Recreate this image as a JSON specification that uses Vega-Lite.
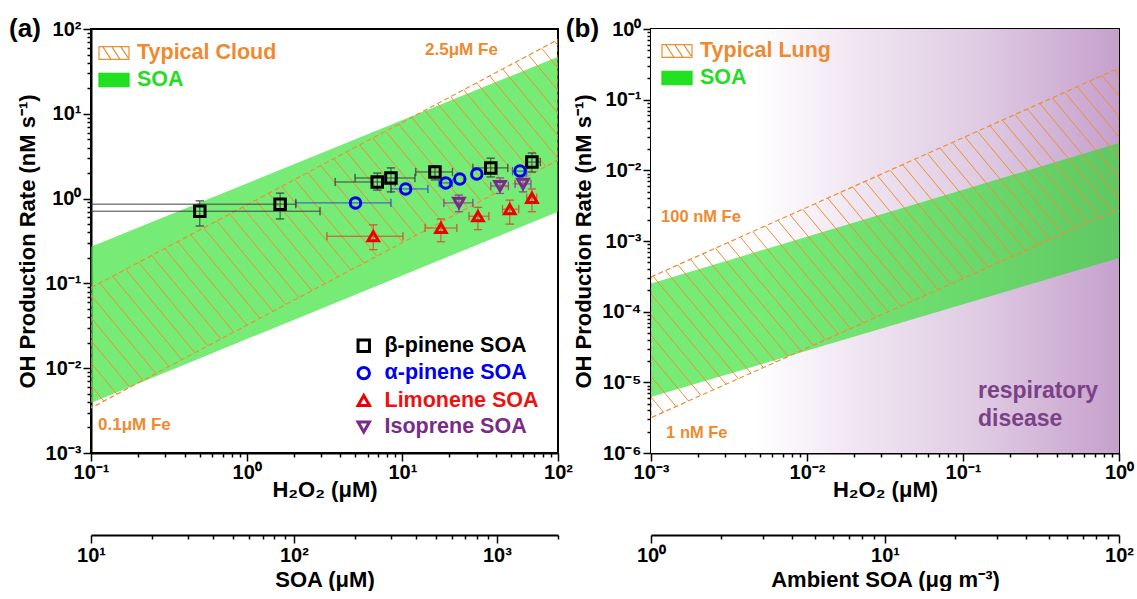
{
  "$schema": "https://vega.github.io/schema/vega-lite/v6.json",
  "padding": {"left": 8, "top": 15, "right": 0, "bottom": 0},
  "spacing": 93,
  "bounds": "flush",
  "resolve": {"scale": {"fill": "independent", "color": "independent", "shape": "independent", "stroke": "independent"}},
  "datasets": {
    "bandA": [{"x": 0.1, "lo": 0.0039, "hi": 0.27, "band": "SOA"}, {"x": 100, "lo": 0.7, "hi": 47, "band": "SOA"}],
    "polyA": [{"o": 1, "x": 0.1, "y": 0.089}, {"o": 2, "x": 100, "y": 75}, {"o": 3, "x": 100, "y": 2.85}, {"o": 4, "x": 0.1, "y": 0.0034}, {"o": 5, "x": 0.1, "y": 0.089}],
    "hatchA": [
      {"x":-1.445,"y":-1.484,"x2":-1.0,"y2":-2.47},{"x":-1.362,"y":-1.403,"x2":-0.917,"y2":-2.389},{"x":-1.278,"y":-1.321,"x2":-0.833,"y2":-2.307},{"x":-1.195,"y":-1.240,"x2":-0.750,"y2":-2.226},{"x":-1.111,"y":-1.158,"x2":-0.666,"y2":-2.144},{"x":-1.028,"y":-1.077,"x2":-0.583,"y2":-2.063},{"x":-0.944,"y":-0.996,"x2":-0.499,"y2":-1.982},{"x":-0.861,"y":-0.914,"x2":-0.416,"y2":-1.900},{"x":-0.777,"y":-0.833,"x2":-0.332,"y2":-1.819},{"x":-0.694,"y":-0.751,"x2":-0.249,"y2":-1.737},{"x":-0.610,"y":-0.670,"x2":-0.165,"y2":-1.656},{"x":-0.527,"y":-0.589,"x2":-0.082,"y2":-1.575},{"x":-0.443,"y":-0.507,"x2":0.002,"y2":-1.493},{"x":-0.360,"y":-0.426,"x2":0.086,"y2":-1.412},{"x":-0.276,"y":-0.344,"x2":0.169,"y2":-1.330},{"x":-0.193,"y":-0.263,"x2":0.253,"y2":-1.249},{"x":-0.109,"y":-0.182,"x2":0.336,"y2":-1.168},{"x":-0.026,"y":-0.100,"x2":0.420,"y2":-1.086},{"x":0.058,"y":-0.019,"x2":0.503,"y2":-1.005},{"x":0.142,"y":0.063,"x2":0.587,"y2":-0.923},{"x":0.225,"y":0.144,"x2":0.670,"y2":-0.842},{"x":0.309,"y":0.225,"x2":0.754,"y2":-0.761},{"x":0.392,"y":0.307,"x2":0.837,"y2":-0.679},{"x":0.476,"y":0.388,"x2":0.921,"y2":-0.598},{"x":0.559,"y":0.470,"x2":1.004,"y2":-0.516},{"x":0.643,"y":0.551,"x2":1.088,"y2":-0.435},{"x":0.726,"y":0.632,"x2":1.171,"y2":-0.354},{"x":0.810,"y":0.714,"x2":1.255,"y2":-0.272},{"x":0.893,"y":0.795,"x2":1.338,"y2":-0.191},{"x":0.977,"y":0.877,"x2":1.422,"y2":-0.109},{"x":1.060,"y":0.958,"x2":1.505,"y2":-0.028},{"x":1.144,"y":1.039,"x2":1.589,"y2":0.053},{"x":1.227,"y":1.121,"x2":1.672,"y2":0.135},{"x":1.311,"y":1.202,"x2":1.756,"y2":0.216},{"x":1.394,"y":1.284,"x2":1.839,"y2":0.298},{"x":1.478,"y":1.365,"x2":1.923,"y2":0.379},{"x":1.561,"y":1.446,"x2":2.006,"y2":0.460},{"x":1.645,"y":1.528,"x2":2.090,"y2":0.542},{"x":1.728,"y":1.609,"x2":2.173,"y2":0.623},{"x":1.812,"y":1.691,"x2":2.257,"y2":0.705},{"x":1.895,"y":1.772,"x2":2.340,"y2":0.786},{"x":1.979,"y":1.853,"x2":2.424,"y2":0.867}
    ],
    "pts": [
      {"sp":"β-pinene SOA","x":0.5,"y":0.71,"xlo":0.03,"xhi":2.96,"ylo":0.475,"yhi":0.94},
      {"sp":"β-pinene SOA","x":1.64,"y":0.86,"xlo":0.03,"xhi":2.07,"ylo":0.575,"yhi":1.16},
      {"sp":"β-pinene SOA","x":6.9,"y":1.57,"xlo":3.7,"xhi":9.0,"ylo":1.26,"yhi":2.0},
      {"sp":"β-pinene SOA","x":8.45,"y":1.75,"xlo":4.97,"xhi":12.05,"ylo":1.2,"yhi":2.3},
      {"sp":"β-pinene SOA","x":16.2,"y":2.06,"xlo":12.2,"xhi":21,"ylo":1.66,"yhi":2.42},
      {"sp":"β-pinene SOA","x":37,"y":2.3,"xlo":28.4,"xhi":47.6,"ylo":1.8,"yhi":3.0},
      {"sp":"β-pinene SOA","x":68,"y":2.7,"xlo":62,"xhi":77,"ylo":2.06,"yhi":3.45},
      {"sp":"α-pinene SOA","x":5.0,"y":0.89,"xlo":2.07,"xhi":8.45},
      {"sp":"α-pinene SOA","x":10.5,"y":1.3,"xlo":8.45,"xhi":14.6},
      {"sp":"α-pinene SOA","x":19,"y":1.53,"xlo":17.2,"xhi":21},
      {"sp":"α-pinene SOA","x":23.4,"y":1.7},
      {"sp":"α-pinene SOA","x":30.1,"y":1.95},
      {"sp":"α-pinene SOA","x":57,"y":2.11,"xlo":51,"xhi":63},
      {"sp":"Limonene SOA","x":6.5,"y":0.36,"xlo":3.28,"xhi":10.1,"ylo":0.25,"yhi":0.49},
      {"sp":"Limonene SOA","x":17.7,"y":0.45,"xlo":14,"xhi":22.4,"ylo":0.31,"yhi":0.575},
      {"sp":"Limonene SOA","x":30.6,"y":0.62,"xlo":26.8,"xhi":36,"ylo":0.43,"yhi":0.79},
      {"sp":"Limonene SOA","x":49,"y":0.75,"xlo":44,"xhi":56,"ylo":0.5,"yhi":0.96},
      {"sp":"Limonene SOA","x":68,"y":1.02,"xlo":63,"xhi":73,"ylo":0.7,"yhi":1.3},
      {"sp":"Isoprene SOA","x":23.1,"y":0.89,"xlo":18.5,"xhi":28.4,"ylo":0.7,"yhi":1.1},
      {"sp":"Isoprene SOA","x":42.4,"y":1.41,"xlo":37,"xhi":48,"ylo":1.15,"yhi":1.75},
      {"sp":"Isoprene SOA","x":59.6,"y":1.49,"xlo":53,"xhi":67,"ylo":1.2,"yhi":1.85}
    ],
    "textA": [{"x": 14.0, "y": 56.5, "t": "2.5μM Fe"}, {"x": 0.111, "y": 0.00214, "t": "0.1μM Fe"}],
    "gradB": [{"x": 0.001, "x2": 1, "y": 0.000001, "y2": 1}],
    "bandB": [{"x": 0.001, "lo": 0.0000062, "hi": 0.00025, "band": "SOA"}, {"x": 1, "lo": 0.000575, "hi": 0.0244, "band": "SOA"}],
    "polyB": [{"o": 1, "x": 0.001, "y": 0.00031}, {"o": 2, "x": 1, "y": 0.28}, {"o": 3, "x": 1, "y": 0.00285}, {"o": 4, "x": 0.001, "y": 0.00000316}, {"o": 5, "x": 0.001, "y": 0.00031}],
    "hatchB": [
      {"x":-3.547,"y":-4.049,"x2":-3.0,"y2":-5.499},{"x":-3.467,"y":-3.970,"x2":-2.92,"y2":-5.420},{"x":-3.387,"y":-3.891,"x2":-2.84,"y2":-5.341},{"x":-3.307,"y":-3.813,"x2":-2.76,"y2":-5.263},{"x":-3.227,"y":-3.734,"x2":-2.68,"y2":-5.184},{"x":-3.147,"y":-3.655,"x2":-2.60,"y2":-5.105},{"x":-3.067,"y":-3.576,"x2":-2.52,"y2":-5.026},{"x":-2.987,"y":-3.497,"x2":-2.44,"y2":-4.947},{"x":-2.907,"y":-3.419,"x2":-2.36,"y2":-4.869},{"x":-2.827,"y":-3.340,"x2":-2.28,"y2":-4.790},{"x":-2.747,"y":-3.261,"x2":-2.20,"y2":-4.711},{"x":-2.667,"y":-3.182,"x2":-2.12,"y2":-4.632},{"x":-2.587,"y":-3.103,"x2":-2.04,"y2":-4.553},{"x":-2.507,"y":-3.025,"x2":-1.96,"y2":-4.475},{"x":-2.427,"y":-2.946,"x2":-1.88,"y2":-4.396},{"x":-2.347,"y":-2.867,"x2":-1.80,"y2":-4.317},{"x":-2.267,"y":-2.788,"x2":-1.72,"y2":-4.238},{"x":-2.187,"y":-2.709,"x2":-1.64,"y2":-4.159},{"x":-2.107,"y":-2.631,"x2":-1.56,"y2":-4.081},{"x":-2.027,"y":-2.552,"x2":-1.48,"y2":-4.002},{"x":-1.947,"y":-2.473,"x2":-1.40,"y2":-3.923},{"x":-1.867,"y":-2.394,"x2":-1.32,"y2":-3.844},{"x":-1.787,"y":-2.315,"x2":-1.24,"y2":-3.765},{"x":-1.707,"y":-2.237,"x2":-1.16,"y2":-3.687},{"x":-1.627,"y":-2.158,"x2":-1.08,"y2":-3.608},{"x":-1.547,"y":-2.079,"x2":-1.00,"y2":-3.529},{"x":-1.467,"y":-2.000,"x2":-0.92,"y2":-3.450},{"x":-1.387,"y":-1.921,"x2":-0.84,"y2":-3.371},{"x":-1.307,"y":-1.843,"x2":-0.76,"y2":-3.293},{"x":-1.227,"y":-1.764,"x2":-0.68,"y2":-3.214},{"x":-1.147,"y":-1.685,"x2":-0.60,"y2":-3.135},{"x":-1.067,"y":-1.606,"x2":-0.52,"y2":-3.056},{"x":-0.987,"y":-1.527,"x2":-0.44,"y2":-2.977},{"x":-0.907,"y":-1.449,"x2":-0.36,"y2":-2.899},{"x":-0.827,"y":-1.370,"x2":-0.28,"y2":-2.820},{"x":-0.747,"y":-1.291,"x2":-0.20,"y2":-2.741},{"x":-0.667,"y":-1.212,"x2":-0.12,"y2":-2.662},{"x":-0.587,"y":-1.133,"x2":-0.04,"y2":-2.583},{"x":-0.507,"y":-1.055,"x2":0.04,"y2":-2.505},{"x":-0.427,"y":-0.976,"x2":0.12,"y2":-2.426},{"x":-0.347,"y":-0.897,"x2":0.20,"y2":-2.347},{"x":-0.267,"y":-0.818,"x2":0.28,"y2":-2.268},{"x":-0.187,"y":-0.739,"x2":0.36,"y2":-2.189},{"x":-0.107,"y":-0.661,"x2":0.44,"y2":-2.111},{"x":-0.027,"y":-0.582,"x2":0.52,"y2":-2.032}
    ],
    "textB": [{"x": 0.00116, "y": 0.00219, "t": "100 nM Fe"}, {"x": 0.00125, "y": 0.00000192, "t": "1 nM Fe"}],
    "textB2": [{"x": 0.1247, "y": 0.00000755, "t": "respiratory"}, {"x": 0.1247, "y": 0.00000303, "t": "disease"}]
  },
  "hconcat": [
    {
      "width": 467,
      "height": 424,
      "title": {"text": "(a)", "anchor": "start", "frame": "bounds", "fontSize": 26, "fontWeight": "bold", "dy": 27, "dx": -7},
      "resolve": {"scale": {"x": "independent", "y": "independent"}},
      "layer": [
        {
          "data": {"name": "bandA"},
          "mark": {"type": "area", "fillOpacity": 0.62, "clip": true},
          "encoding": {
            "x": {"field": "x", "type": "quantitative", "scale": {"type": "log", "domain": [0.1, 100], "nice": false}, "axis": null},
            "y": {"field": "lo", "type": "quantitative", "scale": {"type": "log", "domain": [0.001, 100], "nice": false}, "axis": null},
            "y2": {"field": "hi"},
            "fill": {"field": "band", "type": "nominal", "scale": {"domain": ["Typical Cloud", "SOA"], "range": ["#ffffff", "#22e022"]},
              "legend": {"orient": "none", "legendX": 7, "legendY": 8, "title": null, "symbolSize": 900, "labelFontSize": 21.5, "labelFontWeight": "bold", "labelOffset": 7, "rowPadding": -2,
                "encode": {
                  "symbols": {"update": {
                    "shape": {"signal": "datum.value === 'SOA' ? 'M-1,-0.45H1V0.45H-1Z' : 'M-1,-0.42H1V0.42H-1Z M-0.75,-0.42L-0.2,0.42 M-0.15,-0.42L0.4,0.42 M0.45,-0.42L0.95,0.33'"},
                    "fill": {"signal": "datum.value === 'SOA' ? '#11dd11' : 'transparent'"},
                    "stroke": {"signal": "datum.value === 'SOA' ? '#11dd11' : '#ec8f34'"},
                    "strokeWidth": {"value": 1.2},
                    "opacity": {"value": 1},
                    "fillOpacity": {"value": 1}
                  }},
                  "labels": {"update": {"fill": {"signal": "datum.value === 'SOA' ? '#22dd22' : '#ee8a30'"}}}
                }
              }
            }
          }
        },
        {
          "data": {"name": "hatchA"},
          "mark": {"type": "rule", "color": "#ec8f34", "strokeWidth": 1, "clip": true},
          "encoding": {
            "x": {"field": "x", "type": "quantitative", "scale": {"domain": [-1, 2], "nice": false, "zero": false}, "axis": null},
            "y": {"field": "y", "type": "quantitative", "scale": {"domain": [-3, 2], "nice": false, "zero": false}, "axis": null},
            "x2": {"field": "x2"},
            "y2": {"field": "y2"}
          }
        },
        {
          "layer": [
            {
              "data": {"name": "polyA"},
              "mark": {"type": "line", "color": "#ec8f34", "strokeWidth": 1.2, "strokeDash": [5, 3], "clip": true},
              "encoding": {
                "x": {"field": "x", "type": "quantitative", "scale": {"type": "log", "domain": [0.1, 100], "nice": false},
                  "axis": {"orient": "bottom", "values": [0.1,0.2,0.3,0.4,0.5,0.6,0.7,0.8,0.9,1,2,3,4,5,6,7,8,9,10,20,30,40,50,60,70,80,90,100],
                    "labelExpr": "abs(log(datum.value)/LN10 - round(log(datum.value)/LN10)) < 0.001 ? '10' + replace(replace(replace(replace(replace(replace(replace(replace('' + round(log(datum.value)/LN10), '-', '⁻'), '0', '⁰'), '1', '¹'), '2', '²'), '3', '³'), '4', '⁴'), '5', '⁵'), '6', '⁶') : ''",
                    "tickSize": {"condition": {"test": "abs(log(datum.value)/LN10 - round(log(datum.value)/LN10)) < 0.001", "value": 8}, "value": 4},
                    "title": "H₂O₂ (μM)", "titlePadding": -3, "labelPadding": 1}},
                "y": {"field": "y", "type": "quantitative", "scale": {"type": "log", "domain": [0.001, 100], "nice": false},
                  "axis": {"values": [0.001,0.002,0.003,0.004,0.005,0.006,0.007,0.008,0.009,0.01,0.02,0.03,0.04,0.05,0.06,0.07,0.08,0.09,0.1,0.2,0.3,0.4,0.5,0.6,0.7,0.8,0.9,1,2,3,4,5,6,7,8,9,10,20,30,40,50,60,70,80,90,100],
                    "labelExpr": "abs(log(datum.value)/LN10 - round(log(datum.value)/LN10)) < 0.001 ? '10' + replace(replace(replace(replace(replace(replace(replace(replace('' + round(log(datum.value)/LN10), '-', '⁻'), '0', '⁰'), '1', '¹'), '2', '²'), '3', '³'), '4', '⁴'), '5', '⁵'), '6', '⁶') : ''",
                    "tickSize": {"condition": {"test": "abs(log(datum.value)/LN10 - round(log(datum.value)/LN10)) < 0.001", "value": 8}, "value": 4},
                    "title": "OH Production Rate (nM s⁻¹)", "titlePadding": 6, "labelPadding": 2}},
                "order": {"field": "o", "type": "quantitative"}
              }
            },
            {
              "data": {"name": "pts"},
              "mark": {"type": "rule", "strokeWidth": 1, "clip": true},
              "encoding": {
                "x": {"field": "xlo", "type": "quantitative", "scale": {"type": "log", "domain": [0.1, 100], "nice": false}},
                "x2": {"field": "xhi"},
                "y": {"field": "y", "type": "quantitative", "scale": {"type": "log", "domain": [0.001, 100], "nice": false}},
                "stroke": {"field": "sp", "type": "nominal", "scale": {"domain": ["Isoprene SOA", "Limonene SOA", "α-pinene SOA", "β-pinene SOA"], "range": ["#8a3a9a", "#d84a2a", "#3050c8", "#404040"]}, "legend": null}
              }
            },
            {
              "data": {"name": "pts"},
              "mark": {"type": "tick", "orient": "vertical", "size": 8, "thickness": 0.3, "filled": false, "strokeWidth": 1, "clip": true},
              "encoding": {
                "x": {"field": "xlo", "type": "quantitative", "scale": {"type": "log", "domain": [0.1, 100], "nice": false}},
                "y": {"field": "y", "type": "quantitative", "scale": {"type": "log", "domain": [0.001, 100], "nice": false}},
                "stroke": {"field": "sp", "type": "nominal", "legend": null}
              }
            },
            {
              "data": {"name": "pts"},
              "mark": {"type": "tick", "orient": "vertical", "size": 8, "thickness": 0.3, "filled": false, "strokeWidth": 1, "clip": true},
              "encoding": {
                "x": {"field": "xhi", "type": "quantitative", "scale": {"type": "log", "domain": [0.1, 100], "nice": false}},
                "y": {"field": "y", "type": "quantitative", "scale": {"type": "log", "domain": [0.001, 100], "nice": false}},
                "stroke": {"field": "sp", "type": "nominal", "legend": null}
              }
            },
            {
              "data": {"name": "pts"},
              "mark": {"type": "rule", "strokeWidth": 1, "clip": true},
              "encoding": {
                "x": {"field": "x", "type": "quantitative", "scale": {"type": "log", "domain": [0.1, 100], "nice": false}},
                "y": {"field": "ylo", "type": "quantitative", "scale": {"type": "log", "domain": [0.001, 100], "nice": false}},
                "y2": {"field": "yhi"},
                "stroke": {"field": "sp", "type": "nominal", "legend": null}
              }
            },
            {
              "data": {"name": "pts"},
              "mark": {"type": "tick", "orient": "horizontal", "size": 8, "thickness": 0.3, "filled": false, "strokeWidth": 1, "clip": true},
              "encoding": {
                "x": {"field": "x", "type": "quantitative", "scale": {"type": "log", "domain": [0.1, 100], "nice": false}},
                "y": {"field": "ylo", "type": "quantitative", "scale": {"type": "log", "domain": [0.001, 100], "nice": false}},
                "stroke": {"field": "sp", "type": "nominal", "legend": null}
              }
            },
            {
              "data": {"name": "pts"},
              "mark": {"type": "tick", "orient": "horizontal", "size": 8, "thickness": 0.3, "filled": false, "strokeWidth": 1, "clip": true},
              "encoding": {
                "x": {"field": "x", "type": "quantitative", "scale": {"type": "log", "domain": [0.1, 100], "nice": false}},
                "y": {"field": "yhi", "type": "quantitative", "scale": {"type": "log", "domain": [0.001, 100], "nice": false}},
                "stroke": {"field": "sp", "type": "nominal", "legend": null}
              }
            },
            {
              "data": {"name": "pts"},
              "mark": {"type": "point", "filled": false, "strokeWidth": 3, "size": 110, "opacity": 1, "clip": true},
              "encoding": {
                "x": {"field": "x", "type": "quantitative", "scale": {"type": "log", "domain": [0.1, 100], "nice": false}},
                "y": {"field": "y", "type": "quantitative", "scale": {"type": "log", "domain": [0.001, 100], "nice": false}},
                "color": {"field": "sp", "type": "nominal", "scale": {"domain": ["β-pinene SOA", "α-pinene SOA", "Limonene SOA", "Isoprene SOA"], "range": ["#000000", "#0000ee", "#ee0000", "#7a2a8a"]},
                  "legend": {"orient": "none", "legendX": 262, "legendY": 306, "title": null, "labelFontSize": 21.5, "labelFontWeight": "bold", "symbolStrokeWidth": 3, "symbolSize": 130, "rowPadding": 3.4, "labelOffset": 10,
                    "labelColor": {"expr": "datum.value === 'β-pinene SOA' ? '#000000' : datum.value === 'α-pinene SOA' ? '#0000ee' : datum.value === 'Limonene SOA' ? '#ee1111' : '#7a2a8a'"}}},
                "shape": {"field": "sp", "type": "nominal", "scale": {"domain": ["β-pinene SOA", "α-pinene SOA", "Limonene SOA", "Isoprene SOA"], "range": ["square", "circle", "triangle-up", "triangle-down"]},
                  "legend": {"orient": "none", "legendX": 262, "legendY": 306, "title": null, "labelFontSize": 21.5, "labelFontWeight": "bold", "symbolStrokeWidth": 3, "symbolSize": 130, "rowPadding": 3.4, "labelOffset": 10,
                    "labelColor": {"expr": "datum.value === 'β-pinene SOA' ? '#000000' : datum.value === 'α-pinene SOA' ? '#0000ee' : datum.value === 'Limonene SOA' ? '#ee1111' : '#7a2a8a'"}}}
              }
            },
            {
              "data": {"name": "textA"},
              "mark": {"type": "text", "align": "left", "baseline": "middle", "fontSize": 17, "fontWeight": "bold", "color": "#ee8a30"},
              "encoding": {
                "x": {"field": "x", "type": "quantitative", "scale": {"type": "log", "domain": [0.1, 100], "nice": false}},
                "y": {"field": "y", "type": "quantitative", "scale": {"type": "log", "domain": [0.001, 100], "nice": false}},
                "text": {"field": "t"}
              }
            }
          ]
        },
        {
          "data": {"values": [{"s": 10}, {"s": 2000}]},
          "mark": {"type": "point", "opacity": 0},
          "encoding": {
            "x": {"field": "s", "type": "quantitative", "scale": {"type": "log", "domain": [10, 2000], "nice": false},
              "axis": {"orient": "bottom", "offset": 82, "values": [10,20,30,40,50,60,70,80,90,100,200,300,400,500,600,700,800,900,1000,2000],
                "labelExpr": "abs(log(datum.value)/LN10 - round(log(datum.value)/LN10)) < 0.001 ? '10' + replace(replace(replace(replace(replace(replace(replace(replace('' + round(log(datum.value)/LN10), '-', '⁻'), '0', '⁰'), '1', '¹'), '2', '²'), '3', '³'), '4', '⁴'), '5', '⁵'), '6', '⁶') : ''",
                "tickSize": {"condition": {"test": "abs(log(datum.value)/LN10 - round(log(datum.value)/LN10)) < 0.001", "value": 8}, "value": 4},
                "title": "SOA (μM)", "titlePadding": 4, "labelPadding": 2}}
          }
        }
      ]
    },
    {
      "width": 468,
      "height": 424,
      "title": {"text": "(b)", "anchor": "start", "frame": "bounds", "fontSize": 26, "fontWeight": "bold", "dy": 27, "dx": -7},
      "resolve": {"scale": {"x": "independent", "y": "independent"}},
      "layer": [
        {
          "layer": [
            {
              "data": {"name": "gradB"},
              "mark": {"type": "rect", "clip": true, "color": {"gradient": "linear", "x1": 0, "x2": 1, "y1": 0, "y2": 0, "stops": [{"offset": 0, "color": "#ffffff"}, {"offset": 0.22, "color": "#ffffff"}, {"offset": 0.45, "color": "#efe4f1"}, {"offset": 0.7, "color": "#dfcbe3"}, {"offset": 1, "color": "#c6a0cc"}]}},
              "encoding": {
                "x": {"field": "x", "type": "quantitative", "scale": {"type": "log", "domain": [0.001, 1], "nice": false}, "axis": null},
                "x2": {"field": "x2"},
                "y": {"field": "y", "type": "quantitative", "scale": {"type": "log", "domain": [0.000001, 1], "nice": false}, "axis": null},
                "y2": {"field": "y2"}
              }
            },
            {
              "data": {"name": "bandB"},
              "mark": {"type": "area", "fillOpacity": 0.62, "clip": true},
              "encoding": {
                "x": {"field": "x", "type": "quantitative", "scale": {"type": "log", "domain": [0.001, 1], "nice": false}, "axis": null},
                "y": {"field": "lo", "type": "quantitative", "scale": {"type": "log", "domain": [0.000001, 1], "nice": false}, "axis": null},
                "y2": {"field": "hi"},
                "fill": {"field": "band", "type": "nominal", "scale": {"domain": ["Typical Lung", "SOA"], "range": ["#ffffff", "#22e022"]},
                  "legend": {"orient": "none", "legendX": 10, "legendY": 6, "title": null, "symbolSize": 900, "labelFontSize": 21.5, "labelFontWeight": "bold", "labelOffset": 7, "rowPadding": -4,
                    "encode": {
                      "symbols": {"update": {
                        "shape": {"signal": "datum.value === 'SOA' ? 'M-1,-0.45H1V0.45H-1Z' : 'M-1,-0.42H1V0.42H-1Z M-0.75,-0.42L-0.2,0.42 M-0.15,-0.42L0.4,0.42 M0.45,-0.42L0.95,0.33'"},
                        "fill": {"signal": "datum.value === 'SOA' ? '#11dd11' : 'transparent'"},
                        "stroke": {"signal": "datum.value === 'SOA' ? '#11dd11' : '#ec8f34'"},
                        "strokeWidth": {"value": 1.2},
                        "opacity": {"value": 1},
                        "fillOpacity": {"value": 1}
                      }},
                      "labels": {"update": {"fill": {"signal": "datum.value === 'SOA' ? '#22dd22' : '#ee8a30'"}}}
                    }
                  }
                }
              }
            }
          ]
        },
        {
          "data": {"name": "hatchB"},
          "mark": {"type": "rule", "color": "#ec8f34", "strokeWidth": 1, "clip": true},
          "encoding": {
            "x": {"field": "x", "type": "quantitative", "scale": {"domain": [-3, 0], "nice": false, "zero": false}, "axis": null},
            "y": {"field": "y", "type": "quantitative", "scale": {"domain": [-6, 0], "nice": false, "zero": false}, "axis": null},
            "x2": {"field": "x2"},
            "y2": {"field": "y2"}
          }
        },
        {
          "layer": [
            {
              "data": {"name": "polyB"},
              "mark": {"type": "line", "color": "#ec8f34", "strokeWidth": 1.2, "strokeDash": [5, 3], "clip": true},
              "encoding": {
                "x": {"field": "x", "type": "quantitative", "scale": {"type": "log", "domain": [0.001, 1], "nice": false},
                  "axis": {"orient": "bottom", "values": [0.001,0.002,0.003,0.004,0.005,0.006,0.007,0.008,0.009,0.01,0.02,0.03,0.04,0.05,0.06,0.07,0.08,0.09,0.1,0.2,0.3,0.4,0.5,0.6,0.7,0.8,0.9,1],
                    "labelExpr": "abs(log(datum.value)/LN10 - round(log(datum.value)/LN10)) < 0.001 ? '10' + replace(replace(replace(replace(replace(replace(replace(replace('' + round(log(datum.value)/LN10), '-', '⁻'), '0', '⁰'), '1', '¹'), '2', '²'), '3', '³'), '4', '⁴'), '5', '⁵'), '6', '⁶') : ''",
                    "tickSize": {"condition": {"test": "abs(log(datum.value)/LN10 - round(log(datum.value)/LN10)) < 0.001", "value": 8}, "value": 4},
                    "title": "H₂O₂ (μM)", "titlePadding": -3, "labelPadding": 1}},
                "y": {"field": "y", "type": "quantitative", "scale": {"type": "log", "domain": [0.000001, 1], "nice": false},
                  "axis": {"values": [0.000001,0.000002,0.000003,0.000004,0.000005,0.000006,0.000007,0.000008,0.000009,0.00001,0.00002,0.00003,0.00004,0.00005,0.00006,0.00007,0.00008,0.00009,0.0001,0.0002,0.0003,0.0004,0.0005,0.0006,0.0007,0.0008,0.0009,0.001,0.002,0.003,0.004,0.005,0.006,0.007,0.008,0.009,0.01,0.02,0.03,0.04,0.05,0.06,0.07,0.08,0.09,0.1,0.2,0.3,0.4,0.5,0.6,0.7,0.8,0.9,1],
                    "labelExpr": "abs(log(datum.value)/LN10 - round(log(datum.value)/LN10)) < 0.001 ? '10' + replace(replace(replace(replace(replace(replace(replace(replace('' + round(log(datum.value)/LN10), '-', '⁻'), '0', '⁰'), '1', '¹'), '2', '²'), '3', '³'), '4', '⁴'), '5', '⁵'), '6', '⁶') : ''",
                    "tickSize": {"condition": {"test": "abs(log(datum.value)/LN10 - round(log(datum.value)/LN10)) < 0.001", "value": 8}, "value": 4},
                    "title": "OH Production Rate (nM s⁻¹)", "titlePadding": 6, "labelPadding": 2}},
                "order": {"field": "o", "type": "quantitative"}
              }
            },
            {
              "data": {"name": "textB"},
              "mark": {"type": "text", "align": "left", "baseline": "middle", "fontSize": 16.5, "fontWeight": "bold", "color": "#ee8a30"},
              "encoding": {
                "x": {"field": "x", "type": "quantitative", "scale": {"type": "log", "domain": [0.001, 1], "nice": false}},
                "y": {"field": "y", "type": "quantitative", "scale": {"type": "log", "domain": [0.000001, 1], "nice": false}},
                "text": {"field": "t"}
              }
            },
            {
              "data": {"name": "textB2"},
              "mark": {"type": "text", "align": "left", "baseline": "middle", "fontSize": 23, "fontWeight": "bold", "color": "#7b4187"},
              "encoding": {
                "x": {"field": "x", "type": "quantitative", "scale": {"type": "log", "domain": [0.001, 1], "nice": false}},
                "y": {"field": "y", "type": "quantitative", "scale": {"type": "log", "domain": [0.000001, 1], "nice": false}},
                "text": {"field": "t"}
              }
            }
          ]
        },
        {
          "data": {"values": [{"s": 1}, {"s": 100}]},
          "mark": {"type": "point", "opacity": 0},
          "encoding": {
            "x": {"field": "s", "type": "quantitative", "scale": {"type": "log", "domain": [1, 100], "nice": false},
              "axis": {"orient": "bottom", "offset": 82, "values": [1,2,3,4,5,6,7,8,9,10,20,30,40,50,60,70,80,90,100],
                "labelExpr": "abs(log(datum.value)/LN10 - round(log(datum.value)/LN10)) < 0.001 ? '10' + replace(replace(replace(replace(replace(replace(replace(replace('' + round(log(datum.value)/LN10), '-', '⁻'), '0', '⁰'), '1', '¹'), '2', '²'), '3', '³'), '4', '⁴'), '5', '⁵'), '6', '⁶') : ''",
                "tickSize": {"condition": {"test": "abs(log(datum.value)/LN10 - round(log(datum.value)/LN10)) < 0.001", "value": 8}, "value": 4},
                "title": "Ambient SOA (μg m⁻³)", "titlePadding": 4, "labelPadding": 2}}
          }
        }
      ]
    }
  ],
  "config": {
    "font": "Liberation Sans",
    "view": {"stroke": "#000000", "strokeWidth": 2},
    "axis": {"grid": false, "domainColor": "#000000", "domainWidth": 2, "tickColor": "#000000", "tickWidth": 1.5, "labelFont": "Liberation Sans", "labelFontSize": 20, "labelFontWeight": "bold", "labelColor": "#000000", "titleFont": "Liberation Sans", "titleFontSize": 22, "titleFontWeight": "bold", "titleColor": "#000000", "labelOverlap": false, "labelFlush": false, "labelBound": false},
    "legend": {"labelFont": "Liberation Sans", "padding": 0},
    "title": {"font": "Liberation Sans", "color": "#000000"}
  }
}
